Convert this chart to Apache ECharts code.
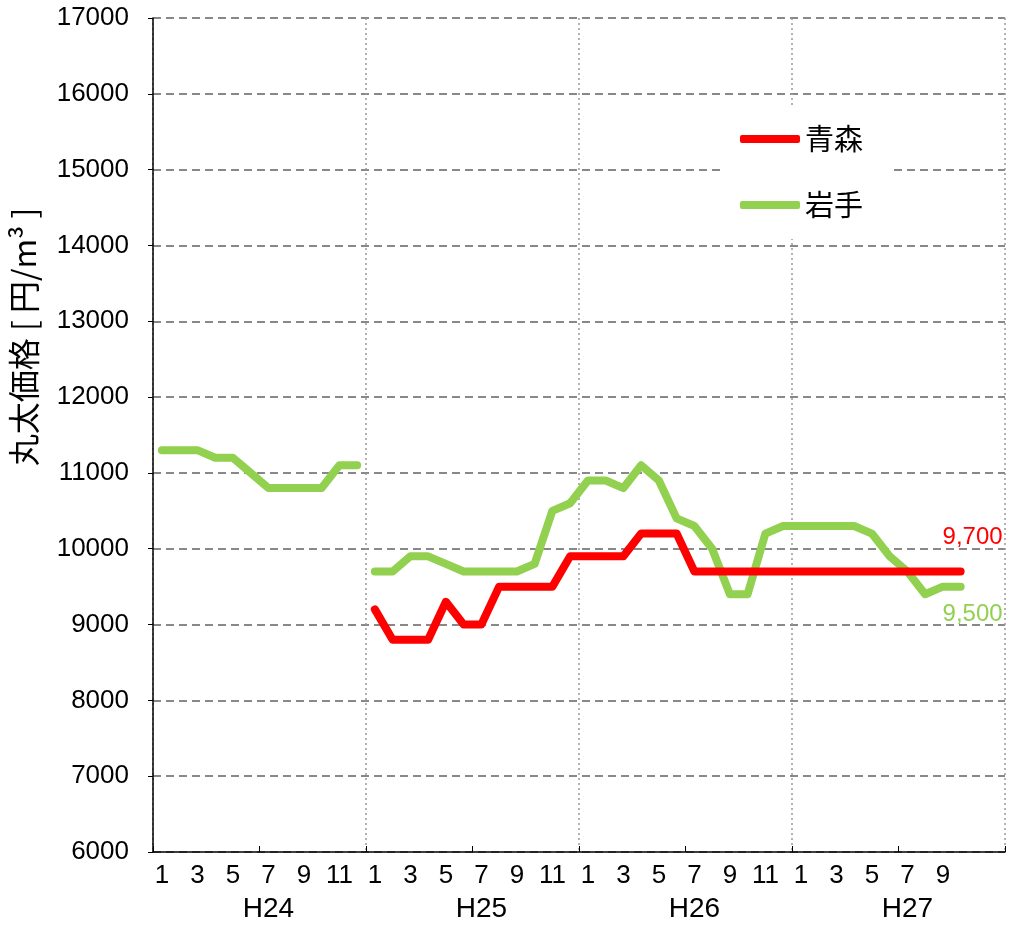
<!DOCTYPE html>
<html>
<head>
<meta charset="utf-8">
<script src="https://cdn.jsdelivr.net/npm/echarts@6/dist/echarts.min.js"></script>
<style>
  html, body { margin: 0; padding: 0; background: #fff; }
  #chart { width: 1009px; height: 929px; }
</style>
</head>
<body>
<div id="chart"></div>
<script>
// 年度と月（カテゴリ）
const years = ['H24', 'H25', 'H26', 'H27']
const months = ['1', '2', '3', '4', '5', '6', '7', '8', '9', '10', '11', '12']

// 岩手 H24（H25との間は線が途切れる）
const iwateH24 = [11300, 11300, 11300, 11200, 11200, 11000, 10800, 10800, 10800, 10800, 11100, 11100]
// 岩手 H25.1 〜 H27.10
const iwateFrom25 = [
  9700, 9700, 9900, 9900, 9800, 9700, 9700, 9700, 9700, 9800, 10500, 10600,
  10900, 10900, 10800, 11100, 10900, 10400, 10300, 10000, 9400, 9400, 10200, 10300,
  10300, 10300, 10300, 10300, 10200, 9900, 9700, 9400, 9500, 9500
]
// 青森 H25.1 〜 H27.10
const aomoriFrom25 = [
  9200, 8800, 8800, 8800, 9300, 9000, 9000, 9500, 9500, 9500, 9500, 9900,
  9900, 9900, 9900, 10200, 10200, 10200, 9700, 9700, 9700, 9700, 9700, 9700,
  9700, 9700, 9700, 9700, 9700, 9700, 9700, 9700, 9700, 9700
]

const yTicks = { min: 6000, max: 17000, step: 1000 }

const categories = []
years.forEach(y => months.forEach(m => categories.push(m)))

const blank12 = new Array(12).fill(null)
const aomoriData = blank12.concat(aomoriFrom25)
const iwateData1 = iwateH24.slice()
const iwateData2 = blank12.concat(iwateFrom25)
const lastIndex = aomoriData.length - 1

const numFont = 'Liberation Sans'
const jpFont = 'Noto Sans CJK JP'

const chart = echarts.init(document.getElementById('chart'), null, { renderer: 'canvas' })

const lineBase = {
  type: 'line',
  symbol: 'none',
  connectNulls: false,
  animation: false
}

// 最終月の値ラベル
const endLabel = (color, offset) => ({
  show: true,
  color: color,
  fontSize: 24,
  fontFamily: numFont,
  distance: 0,
  align: 'center',
  verticalAlign: 'middle',
  offset: offset,
  formatter: p => Number(p.value).toLocaleString('en-US')
})

chart.setOption({
  backgroundColor: '#fff',
  textStyle: { fontFamily: jpFont },
  grid: { left: 151, right: 4, top: 18, bottom: 77 },
  legend: {
    data: ['青森', '岩手'],
    orient: 'vertical',
    left: 720,
    top: 105,
    padding: [18, 28, 18, 20],
    backgroundColor: '#fff',
    itemWidth: 60,
    itemHeight: 8,
    itemGap: 34,
    icon: 'roundRect',
    textStyle: { fontSize: 29, color: '#000', fontFamily: jpFont, lineHeight: 32 }
  },
  xAxis: {
    type: 'category',
    data: categories,
    boundaryGap: true,
    axisLine: { lineStyle: { color: '#000', width: 1.5 } },
    axisTick: { show: true, inside: true, length: 6, interval: 5, lineStyle: { color: '#000' } },
    axisLabel: {
      interval: 1,
      margin: 8,
      color: '#000',
      fontFamily: numFont,
      formatter: (val, idx) => {
        if (idx > lastIndex) return ''
        if (val === '7') return '{m|' + val + '}\n{y|' + years[Math.floor(idx / 12)] + '}'
        return '{m|' + val + '}'
      },
      rich: {
        m: { fontSize: 26, lineHeight: 32, fontFamily: numFont, color: '#000' },
        y: { fontSize: 28, lineHeight: 34, fontFamily: numFont, color: '#000' }
      }
    },
    splitLine: {
      show: true,
      interval: 11,
      lineStyle: { color: '#999', width: 1.5, type: [2, 3] }
    }
  },
  yAxis: {
    type: 'value',
    min: yTicks.min,
    max: yTicks.max,
    interval: yTicks.step,
    name: '丸太価格 [ 円/m³ ]',
    nameLocation: 'middle',
    nameGap: 113,
    nameTextStyle: { fontSize: 32, color: '#000', fontFamily: jpFont, padding: [0, 0, 0, 196] },
    axisLine: { show: true, lineStyle: { color: '#000', width: 1.5 } },
    axisTick: { show: true, length: 5, lineStyle: { color: '#000' } },
    axisLabel: { margin: 24, color: '#000', fontSize: 26, fontFamily: numFont, formatter: v => String(v) },
    splitLine: { show: true, lineStyle: { color: '#888', width: 2, type: [8, 5] } }
  },
  series: [
    Object.assign({}, lineBase, {
      name: '青森',
      data: aomoriData,
      itemStyle: { color: '#ff0000' },
      lineStyle: { color: '#ff0000', width: 8, cap: 'round', join: 'round' },
      endLabel: endLabel('#ff0000', [12, -34]),
      z: 3
    }),
    Object.assign({}, lineBase, {
      name: '岩手',
      data: iwateData1,
      itemStyle: { color: '#92d050' },
      lineStyle: { color: '#92d050', width: 8, cap: 'round', join: 'round' },
      z: 2
    }),
    Object.assign({}, lineBase, {
      name: '岩手',
      data: iwateData2,
      itemStyle: { color: '#92d050' },
      lineStyle: { color: '#92d050', width: 8, cap: 'round', join: 'round' },
      endLabel: endLabel('#92d050', [12, 28]),
      z: 2
    })
  ]
})

window.addEventListener('resize', () => chart.resize())
</script>
</body>
</html>
